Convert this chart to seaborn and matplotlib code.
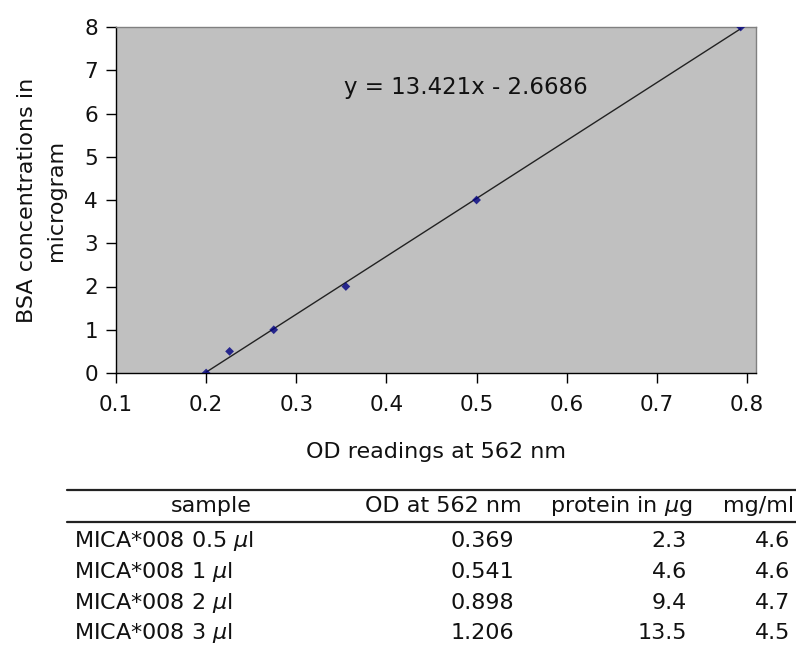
import matplotlib
matplotlib.use("Agg")
import matplotlib.pyplot as plt
import seaborn as sns
import numpy as np
import pandas as pd
from matplotlib.lines import Line2D

# ---- data ----
od_readings = [0.2, 0.226, 0.275, 0.355, 0.5, 0.793]
bsa_ug = [0, 0.5, 1, 2, 4, 8]
equation_text = "y = 13.421x - 2.6686"

x_ticks = [0.1, 0.2, 0.3, 0.4, 0.5, 0.6, 0.7, 0.8]
y_ticks = [0, 1, 2, 3, 4, 5, 6, 7, 8]

table_header = ["sample", "OD at 562 nm", r"protein in $\mu$g", "mg/ml"]
samples = [r"MICA*008 0.5 $\mu$l", r"MICA*008 1 $\mu$l", r"MICA*008 2 $\mu$l", r"MICA*008 3 $\mu$l"]
sample_od = ["0.369", "0.541", "0.898", "1.206"]
sample_protein = ["2.3", "4.6", "9.4", "13.5"]
sample_mgml = ["4.6", "4.6", "4.7", "4.5"]

sns.set_theme(style="white")
plt.rcParams["font.family"] = ["DejaVu Sans"]
plt.rcParams["mathtext.fontset"] = "dejavusans"

W, H = 796, 648
fig = plt.figure(figsize=(W / 100, H / 100), dpi=100)
fig.patch.set_facecolor("white")

def fx(px):
    return px / W

def fy(py):
    return 1 - py / H

ax = fig.add_axes([fx(116), fy(373), fx(756) - fx(116), fy(27) - fy(373)])
ax.set_facecolor("#c0c0c0")

df = pd.DataFrame({"od": od_readings, "bsa": bsa_ug})
sns.regplot(data=df, x="od", y="bsa", ax=ax, ci=None, marker="D",
            scatter_kws=dict(s=20, color="#000080", edgecolors="none", zorder=3),
            line_kws=dict(color="#222222", lw=1.0, zorder=2))

ax.set_xlim(0.1, 0.81)
ax.set_ylim(0, 8)
ax.set_xticks(x_ticks)
ax.set_xticklabels([f"{v:g}" for v in x_ticks])
ax.set_yticks(y_ticks)
ax.tick_params(axis="both", which="major", direction="out", length=7, width=1,
               color="black", labelsize=15.5, labelcolor="#111111",
               left=True, bottom=True)
ax.tick_params(axis="x", pad=9)
ax.tick_params(axis="y", pad=6)
for s in ["left", "bottom"]:
    ax.spines[s].set_color("black")
    ax.spines[s].set_linewidth(1.0)
for s in ["top", "right"]:
    ax.spines[s].set_color("#808080")
    ax.spines[s].set_linewidth(1.0)

ax.text(0.488, 6.59, equation_text, fontsize=16.5, color="#111111",
        ha="center", va="center")

ax.set_xlabel("OD readings at 562 nm", fontsize=16, color="#111111")
ax.set_ylabel("BSA concentrations in\nmicrogram", fontsize=16, color="#111111",
              linespacing=1.55)
ax.xaxis.set_label_coords(0.5, -0.2)
ax.yaxis.set_label_coords(-0.078, 0.5)

# ---- table (pixel-based overlay) ----
tab = fig.add_axes([0, 0, 1, 1], zorder=-1)
tab.set_xlim(0, W)
tab.set_ylim(H, 0)
tab.axis("off")

tab.add_line(Line2D([67, 796], [490, 490], color="#222222", lw=1.6))
tab.add_line(Line2D([67, 796], [522, 522], color="#222222", lw=1.6))

fs = 16
hdr_y = 506
tab.text(211, hdr_y, table_header[0], ha="center", va="center", fontsize=fs, color="#111111")
tab.text(522, hdr_y, table_header[1], ha="right", va="center", fontsize=fs, color="#111111")
tab.text(692, hdr_y, table_header[2], ha="right", va="center", fontsize=fs, color="#111111")
tab.text(794, hdr_y, table_header[3], ha="right", va="center", fontsize=fs, color="#111111")

row_y = [541, 572, 603, 633]
for i, yy in enumerate(row_y):
    tab.text(74, yy, samples[i], ha="left", va="center", fontsize=fs, color="#111111")
    tab.text(514, yy, sample_od[i], ha="right", va="center", fontsize=fs, color="#111111")
    tab.text(687, yy, sample_protein[i], ha="right", va="center", fontsize=fs, color="#111111")
    tab.text(790, yy, sample_mgml[i], ha="right", va="center", fontsize=fs, color="#111111")

fig.savefig("out.png", dpi=100)
